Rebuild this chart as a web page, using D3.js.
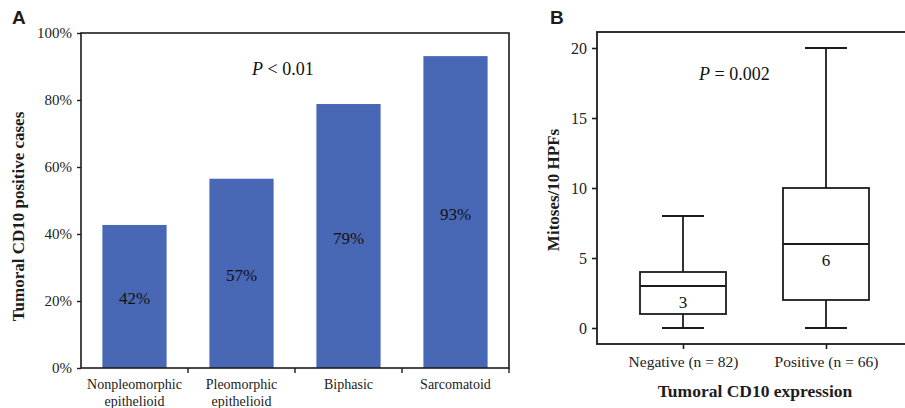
<!DOCTYPE html>
<html>
<head>
<meta charset="utf-8">
<script src="https://cdn.jsdelivr.net/npm/d3@7"></script>
<style>
  html, body { margin:0; padding:0; background:#fff; }
  svg { display:block; }
</style>
</head>
<body>
<div id="chart"></div>
<script>
// Panel A data
const subtypes   = ['Nonpleomorphic epithelioid', 'Pleomorphic epithelioid', 'Biphasic', 'Sarcomatoid'];
const subtypeLines = [['Nonpleomorphic', 'epithelioid'], ['Pleomorphic', 'epithelioid'], ['Biphasic'], ['Sarcomatoid']];
const positivePct  = [42.7, 56.5, 78.8, 93.1];
const pctLabels    = ['42%', '57%', '79%', '93%'];
const pctTicks     = [0, 20, 40, 60, 80, 100];

// Panel B data
const groups     = ['Negative (n = 82)', 'Positive (n = 66)'];
const boxMin     = [0, 0];
const boxQ1      = [1, 2];
const boxMedian  = [3, 6];
const boxQ3      = [4, 10];
const boxMax     = [8, 20];
const mitosTicks = [0, 5, 10, 15, 20];

const W = 905, H = 408;
const serif = '"Liberation Serif", "Times New Roman", serif';
const sans  = '"Liberation Sans", Arial, sans-serif';
const ink = '#1c1c1c';

const svg = d3.select('#chart').append('svg')
  .attr('width', W).attr('height', H);

/* ---------- Panel A ---------- */
const a = { l: 81, r: 509, t: 33, b: 368 };

const xA = d3.scaleBand().domain(subtypes).range([a.l, a.r])
  .paddingInner(0.4).paddingOuter(0.2);
const yA = d3.scaleLinear().domain([0, 100]).range([a.b, a.t]);

const gA = svg.append('g');

gA.append('text').attr('x', 12).attr('y', 24)
  .attr('font-family', sans).attr('font-weight', 700).attr('font-size', 19)
  .attr('fill', ink).text('A');

// bars
gA.selectAll('rect.bar').data(subtypes).join('rect')
  .attr('class', 'bar')
  .attr('x', d => xA(d))
  .attr('width', xA.bandwidth())
  .attr('y', (d, i) => yA(positivePct[i]))
  .attr('height', (d, i) => yA(0) - yA(positivePct[i]))
  .attr('fill', '#4868b6');

gA.selectAll('text.val').data(subtypes).join('text')
  .attr('class', 'val')
  .attr('x', d => xA(d) + xA.bandwidth() / 2)
  .attr('y', (d, i) => (yA(positivePct[i]) + yA(0)) / 2 + 8)
  .attr('text-anchor', 'middle')
  .attr('font-family', serif).attr('font-size', 17).attr('fill', '#111')
  .text((d, i) => pctLabels[i]);

// frame
gA.append('rect')
  .attr('x', a.l).attr('y', a.t).attr('width', a.r - a.l).attr('height', a.b - a.t)
  .attr('fill', 'none').attr('stroke', ink).attr('stroke-width', 1.6);

// y axis
const yAxisA = gA.append('g').attr('transform', `translate(${a.l},0)`)
  .call(d3.axisLeft(yA).tickValues(pctTicks).tickSize(4).tickPadding(5).tickFormat(d => d + '%'));
yAxisA.select('.domain').remove();
yAxisA.selectAll('line').attr('stroke', ink).attr('stroke-width', 1.4);
yAxisA.selectAll('text').attr('font-family', serif).attr('font-size', 15).attr('fill', '#222');

// x ticks at band boundaries
const step = xA.step();
const bounds = subtypes.map(d => xA(d) - step * xA.paddingOuter() + step);
gA.selectAll('line.xt').data(bounds).join('line')
  .attr('class', 'xt')
  .attr('x1', d => d).attr('x2', d => d)
  .attr('y1', a.b).attr('y2', a.b + 5)
  .attr('stroke', ink).attr('stroke-width', 1.4);

gA.selectAll('text.cat').data(subtypes).join('text')
  .attr('class', 'cat')
  .attr('x', d => xA(d) + xA.bandwidth() / 2)
  .attr('y', 389)
  .attr('text-anchor', 'middle')
  .attr('font-family', serif).attr('font-size', 14).attr('fill', '#222')
  .each(function(d, i) {
    const t = d3.select(this);
    subtypeLines[i].forEach((ln, j) => {
      t.append('tspan').attr('x', xA(d) + xA.bandwidth() / 2)
        .attr('dy', j === 0 ? 0 : 17).text(ln);
    });
  });

gA.append('text')
  .attr('transform', `translate(24,${(a.t + a.b) / 2 + 16}) rotate(-90)`)
  .attr('text-anchor', 'middle')
  .attr('font-family', serif).attr('font-weight', 700).attr('font-size', 17)
  .attr('fill', ink).text('Tumoral CD10 positive cases');

gA.append('text').attr('x', 252).attr('y', 75)
  .attr('font-family', serif).attr('font-size', 18).attr('fill', '#111')
  .call(t => {
    t.append('tspan').attr('font-style', 'italic').text('P');
    t.append('tspan').text(' < 0.01');
  });

/* ---------- Panel B ---------- */
const b = { l: 597, r: 912, t: 32, b: 344 };
const yB = d3.scaleLinear().domain([0, 20]).range([328, 48]);
const xB = d3.scalePoint().domain(groups).range([683, 826]);
const boxW = 86, capW = 42;

const gB = svg.append('g');

gB.append('text').attr('x', 550).attr('y', 24)
  .attr('font-family', sans).attr('font-weight', 700).attr('font-size', 19)
  .attr('fill', ink).text('B');

gB.append('rect')
  .attr('x', b.l).attr('y', b.t).attr('width', b.r - b.l).attr('height', b.b - b.t)
  .attr('fill', 'none').attr('stroke', ink).attr('stroke-width', 1.8);

const yAxisB = gB.append('g').attr('transform', `translate(${b.l},0)`)
  .call(d3.axisLeft(yB).tickValues(mitosTicks).tickSize(5).tickPadding(5));
yAxisB.select('.domain').remove();
yAxisB.selectAll('line').attr('stroke', ink).attr('stroke-width', 1.6);
yAxisB.selectAll('text').attr('font-family', serif).attr('font-size', 16).attr('fill', '#222');

const xAxisB = gB.append('g').attr('transform', `translate(0,${b.b})`)
  .call(d3.axisBottom(xB).tickSize(5).tickPadding(7));
xAxisB.select('.domain').remove();
xAxisB.selectAll('line').attr('stroke', ink).attr('stroke-width', 1.6);
xAxisB.selectAll('text').attr('font-family', serif).attr('font-size', 15.5).attr('fill', '#222');

const boxes = gB.selectAll('g.box').data(groups).join('g').attr('class', 'box')
  .attr('fill', 'none').attr('stroke', ink).attr('stroke-width', 1.8);

boxes.append('line')
  .attr('x1', d => xB(d)).attr('x2', d => xB(d))
  .attr('y1', (d, i) => yB(boxMax[i])).attr('y2', (d, i) => yB(boxQ3[i]));
boxes.append('line')
  .attr('x1', d => xB(d)).attr('x2', d => xB(d))
  .attr('y1', (d, i) => yB(boxQ1[i])).attr('y2', (d, i) => yB(boxMin[i]));
boxes.append('line')
  .attr('x1', d => xB(d) - capW / 2).attr('x2', d => xB(d) + capW / 2)
  .attr('y1', (d, i) => yB(boxMax[i])).attr('y2', (d, i) => yB(boxMax[i]));
boxes.append('line')
  .attr('x1', d => xB(d) - capW / 2).attr('x2', d => xB(d) + capW / 2)
  .attr('y1', (d, i) => yB(boxMin[i])).attr('y2', (d, i) => yB(boxMin[i]));
boxes.append('rect')
  .attr('x', d => xB(d) - boxW / 2).attr('width', boxW)
  .attr('y', (d, i) => yB(boxQ3[i]))
  .attr('height', (d, i) => yB(boxQ1[i]) - yB(boxQ3[i]))
  .attr('fill', '#fff');
boxes.append('line')
  .attr('x1', d => xB(d) - boxW / 2).attr('x2', d => xB(d) + boxW / 2)
  .attr('y1', (d, i) => yB(boxMedian[i])).attr('y2', (d, i) => yB(boxMedian[i]));

// median value sits just under the median line
gB.selectAll('text.med').data(groups).join('text')
  .attr('class', 'med')
  .attr('x', d => xB(d))
  .attr('y', (d, i) => yB(boxMedian[i]) + 22)
  .attr('text-anchor', 'middle')
  .attr('font-family', serif).attr('font-size', 17).attr('fill', '#111')
  .text((d, i) => boxMedian[i]);

gB.append('text')
  .attr('transform', `translate(559,${(b.t + b.b) / 2 + 2}) rotate(-90)`)
  .attr('text-anchor', 'middle')
  .attr('font-family', serif).attr('font-weight', 700).attr('font-size', 17)
  .attr('fill', ink).text('Mitoses/10 HPFs');

gB.append('text').attr('x', 755).attr('y', 397)
  .attr('text-anchor', 'middle')
  .attr('font-family', serif).attr('font-weight', 700).attr('font-size', 17.5)
  .attr('fill', ink).text('Tumoral CD10 expression');

gB.append('text').attr('x', 699).attr('y', 80)
  .attr('font-family', serif).attr('font-size', 18).attr('fill', '#111')
  .call(t => {
    t.append('tspan').attr('font-style', 'italic').text('P');
    t.append('tspan').text(' = 0.002');
  });
</script>
</body>
</html>
